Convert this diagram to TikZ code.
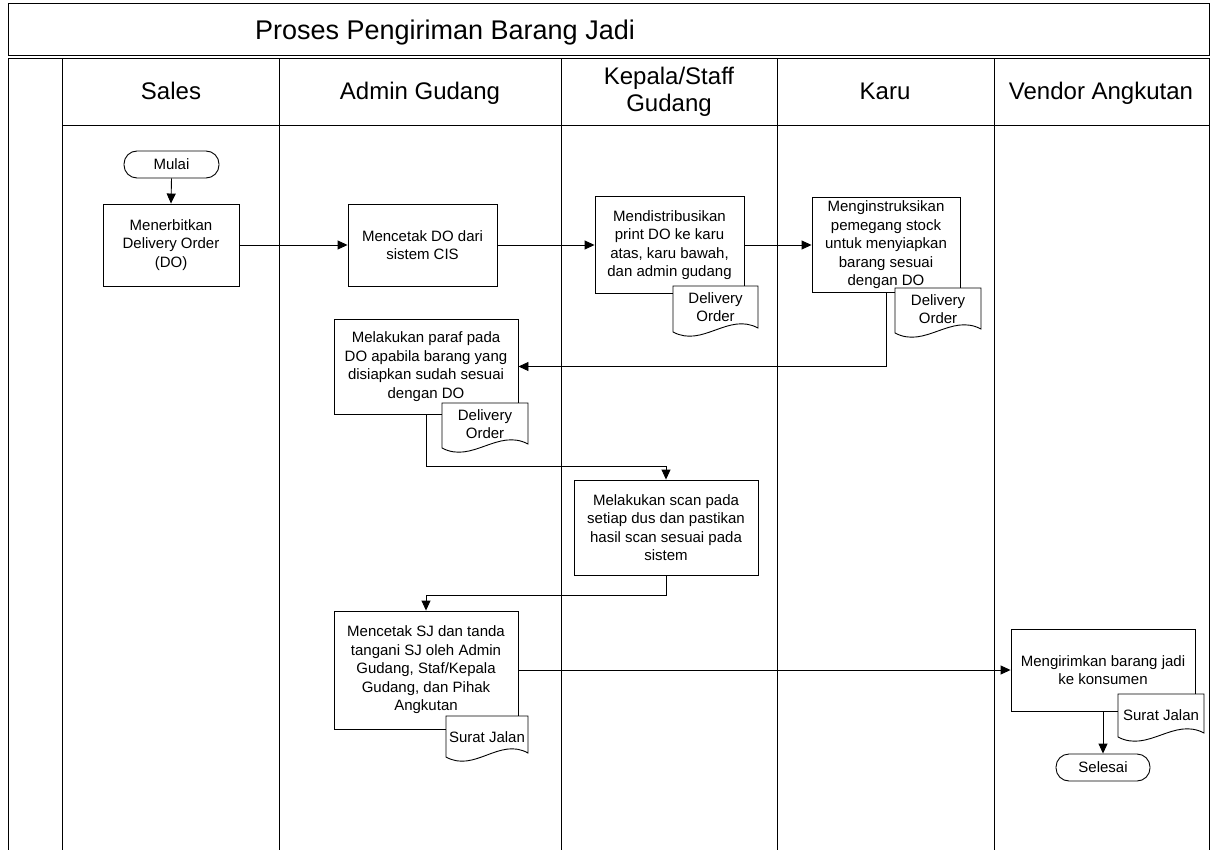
\documentclass[tikz,border=0pt]{standalone}
\usepackage{fontspec}
\setmainfont{Liberation Sans}
\usetikzlibrary{arrows.meta}
\newcommand\bodyfont{\fontsize{15}{18.5}\selectfont}
\newcommand\headfont{\fontsize{24}{27}\selectfont}
\newcommand\titlefont{\fontsize{27}{30}\selectfont}
\tikzset{
  frameline/.style={line width=1pt, draw=black},
  proc/.style={draw, line width=0.9pt, fill=white, inner sep=0pt, align=center, font=\bodyfont},
  term/.style={draw, line width=0.9pt, fill=white, rounded corners=13pt, inner sep=0pt, align=center, font=\bodyfont, minimum height=27pt},
  flow/.style={line width=0.9pt, -{Triangle[length=10pt,width=9pt]}},
  docline/.style={draw, line width=0.9pt, fill=white},
  doctext/.style={inner sep=0pt, align=center, font=\bodyfont},
  lanehead/.style={inner sep=0pt, align=center, font=\headfont},
}
% name, x1, x2, ytop, yleft-bottom, text
\newcommand\DocShp[6]{%
  \draw[docline] (#2,#4) -- (#3,#4) -- (#3,{#5-4})
    .. controls ({#3-0.35*(#3-#2)},{#5-20}) and ({#2+0.35*(#3-#2)},{#5+16}) .. (#2,#5) -- cycle;
  \node[doctext] (#1) at ({(#2+#3)/2},{#4+21}) {#6};
}
\begin{document}
\begin{tikzpicture}[x=1pt,y=-1pt]
\useasboundingbox (0,0) rectangle (1212,850);
% frame
\draw[frameline] (8,4) rectangle (1209,56);
\node[inner sep=0pt, font=\titlefont, anchor=base] (title) at (445,40) {Proses Pengiriman Barang Jadi};
\draw[frameline] (8,850) -- (8,59) -- (1209,59) -- (1209,850);
\foreach \x in {62,279,561,777,994} \draw[frameline] (\x,59) -- (\x,850);
\draw[frameline] (62,126) -- (1209,126);
% lane headers
\node[lanehead, anchor=base] (hsales) at (171,100) {Sales};
\node[lanehead, anchor=base] (hadmin) at (420,100) {Admin Gudang};
\node[lanehead] (hkepala) at (669,92) {Kepala/Staff\\Gudang};
\node[lanehead, anchor=base] (hkaru) at (885,100) {Karu};
\node[lanehead, anchor=base] (hvendor) at (1101,100) {Vendor Angkutan};
% nodes
\node[term, minimum width=95pt] (mulai) at (171.5,164.5) {Mulai};
\node[proc, minimum width=136pt, minimum height=82pt] (b1) at (171,245) {Menerbitkan\\Delivery Order\\(DO)};
\node[proc, minimum width=149pt, minimum height=82pt] (b2) at (422.5,245) {Mencetak DO dari\\sistem CIS};
\node[proc, minimum width=149pt, minimum height=97pt] (b3) at (669.5,245) {Mendistribusikan\\print DO ke karu\\atas, karu bawah,\\dan admin gudang};
\node[proc, minimum width=148pt, minimum height=95pt] (b4) at (886,245) {Menginstruksikan\\pemegang stock\\untuk menyiapkan\\barang sesuai\\dengan DO};
\node[proc, minimum width=184pt, minimum height=95pt] (b5) at (426,366.5) {Melakukan paraf pada\\DO apabila barang yang\\disiapkan sudah sesuai\\dengan DO};
\node[proc, minimum width=184pt, minimum height=95pt] (b6) at (666,527.5) {Melakukan scan pada\\setiap dus dan pastikan\\hasil scan sesuai pada\\sistem};
\node[proc, minimum width=184pt, minimum height=118pt] (b7) at (426,670) {Mencetak SJ dan tanda\\tangani SJ oleh Admin\\Gudang, Staf/Kepala\\Gudang, dan Pihak\\Angkutan};
\node[proc, minimum width=184pt, minimum height=82pt] (b8) at (1103,670) {Mengirimkan barang jadi\\ke konsumen};
\node[term, minimum width=94pt] (selesai) at (1103,767.5) {Selesai};
% documents
\DocShp{d3}{673}{758}{286}{332}{Delivery\\Order}
\DocShp{d4}{895}{981}{288}{333}{Delivery\\Order}
\DocShp{d5}{442}{528}{403}{448}{Delivery\\Order}
\DocShp{d7}{446}{528}{716}{757}{Surat Jalan}
\DocShp{d8}{1118}{1204}{694}{737}{Surat Jalan}
% connectors
\draw[flow] (mulai.south) -- (b1.north);
\draw[flow] (b1.east) -- (b2.west);
\draw[flow] (b2.east) -- (b3.west);
\draw[flow] (b3.east) -- (b4.west);
\draw[flow] (b4.south) |- (b5.east);
\draw[flow] (b5.south) -- ++(0,52) -| (b6.north);
\draw[flow] (b6.south) -- ++(0,20) -| (b7.north);
\draw[flow] (b7.east) -- (b8.west);
\draw[flow] (b8.south) -- (selesai.north);
\end{tikzpicture}
\end{document}
